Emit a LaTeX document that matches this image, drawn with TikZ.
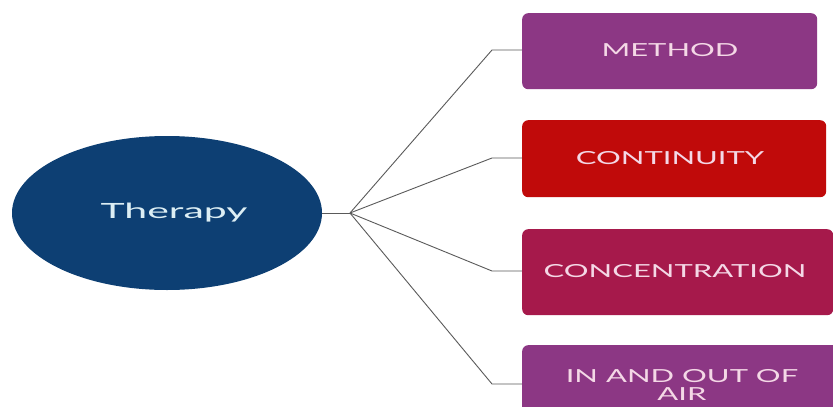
\documentclass[tikz,border=0pt]{standalone}
\usepackage{fontspec}
\setmainfont{Lato}
\usetikzlibrary{shapes.geometric}
\definecolor{navy}{HTML}{0D3F73}
\definecolor{plum}{HTML}{8C3784}
\definecolor{brick}{HTML}{C00A0A}
\definecolor{crimson}{HTML}{A6194B}
\definecolor{boxtext}{HTML}{F4D8E6}
\definecolor{roottext}{HTML}{DCEEF4}
\definecolor{linegray}{HTML}{5A5A5A}
\newcommand{\wide}[1]{\scalebox{1.72}[1]{#1}}
\begin{document}
\begin{tikzpicture}[x=1pt,y=-1pt,
  topic/.style={rectangle,rounded corners=6pt,draw=none,anchor=north west,inner sep=0pt},
  label/.style={text=boxtext,font=\fontsize{18}{18.5}\selectfont,align=center,inner sep=0pt},
  link/.style={draw=linegray,line width=0.9pt}]
\useasboundingbox (0,0) rectangle (833,407);
\fill[white] (0,0) rectangle (833,407);

\node[ellipse,fill=navy,minimum width=310pt,minimum height=154pt] (root) at (167,213) {};
\node[text=roottext,font=\fontsize{21}{24}\selectfont,inner sep=0pt] (rt) at (174,213) {\scalebox{1.95}[1]{Therapy}};

\node[topic,fill=plum,minimum width=295pt,minimum height=76pt] (m) at (522,13) {};
\node[topic,fill=brick,minimum width=304pt,minimum height=77pt] (c) at (522,120) {};
\node[topic,fill=crimson,minimum width=311pt,minimum height=86pt] (k) at (522,229) {};
\node[topic,fill=plum,minimum width=320pt,minimum height=75pt] (a) at (522,345) {};

\node[label] (mt) at (670,50) {\wide{METHOD}};
\node[label] (ct) at (670,158) {\wide{CONTINUITY}};
\node[label] (kt) at (675,271) {\wide{CONCENTRATION}};
\node[label] (at) at (682,385) {\wide{IN AND OUT OF}\\\wide{AIR}};

\coordinate (hub) at (350,213);
\coordinate (em) at (492,50);
\coordinate (ec) at (492,158);
\coordinate (ek) at (492,271);
\coordinate (ea) at (492,384);

\draw[link] (root.east) -- (hub);
\draw[link] (hub) -- (em) -- (m.west |- em);
\draw[link] (hub) -- (ec) -- (c.west |- ec);
\draw[link] (hub) -- (ek) -- (k.west |- ek);
\draw[link] (hub) -- (ea) -- (a.west |- ea);
\end{tikzpicture}
\end{document}
